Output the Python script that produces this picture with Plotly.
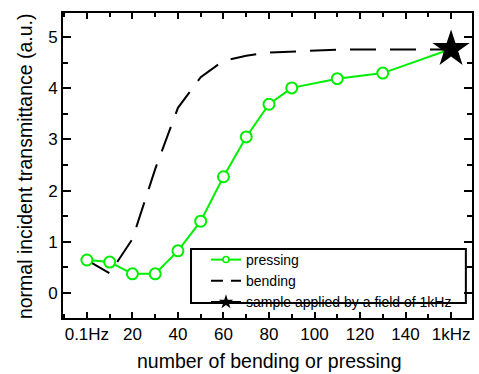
import plotly.graph_objects as go

# ---- data ----
press_x = [0, 10, 20, 30, 40, 50, 60, 70, 80, 90, 110, 130, 160]
press_y = [0.64, 0.60, 0.37, 0.37, 0.82, 1.40, 2.27, 3.05, 3.69, 4.01, 4.19, 4.30, 4.77]

bend_x = [0, 10, 20, 30, 40, 50, 60, 70, 80, 90, 100, 110, 160]
bend_y = [0.64, 0.38, 1.05, 2.42, 3.62, 4.22, 4.54, 4.64, 4.70, 4.72, 4.75, 4.76, 4.76]

star_x = [160]
star_y = [4.77]

x_tickvals = [0, 20, 40, 60, 80, 100, 120, 140, 160]
x_ticktext = ["0.1Hz", "20", "40", "60", "80", "100", "120", "140", "1kHz"]
y_tickvals = [0, 1, 2, 3, 4, 5]

x_title = "number of bending or pressing"
y_title = "normal incident transmittance (a.u.)"

GREEN = "#00ee00"
FONT = "Arial, Liberation Sans, sans-serif"

fig = go.Figure()

# bending (dashed)
fig.add_trace(go.Scatter(x=bend_x, y=bend_y, mode="lines",
                         line=dict(color="black", width=2, dash="26px,14px"),
                         showlegend=False))
# pressing
fig.add_trace(go.Scatter(x=press_x, y=press_y, mode="lines+markers",
                         line=dict(color=GREEN, width=2),
                         marker=dict(symbol="circle", size=11, color="white",
                                     line=dict(color=GREEN, width=2)),
                         showlegend=False))
# star
fig.add_trace(go.Scatter(x=star_x, y=star_y, mode="markers",
                         marker=dict(symbol="star", size=28, color="black"),
                         showlegend=False))

# legend-only entries (small symbols)
fig.add_trace(go.Scatter(x=[None], y=[None], mode="lines+markers", name="pressing",
                         line=dict(color=GREEN, width=2),
                         marker=dict(symbol="circle", size=6, color="white",
                                     line=dict(color=GREEN, width=1.5))))
fig.add_trace(go.Scatter(x=[None], y=[None], mode="lines", name="bending",
                         line=dict(color="black", width=2, dash="12px,8px")))
fig.add_trace(go.Scatter(x=[None], y=[None], mode="lines+markers",
                         name="sample applied by a field of 1kHz",
                         line=dict(color="black", width=2),
                         marker=dict(symbol="star", size=11, color="black")))

axis_common = dict(showline=True, linecolor="black", linewidth=2, mirror="ticks",
                   ticks="inside", tickcolor="black", tickwidth=1.5,
                   showgrid=False, zeroline=False,
                   tickfont=dict(family=FONT, size=17, color="black"))

fig.update_xaxes(range=[-10.5, 169.2], tickmode="array", tickvals=x_tickvals,
                 ticktext=x_ticktext, ticklen=6,
                 minor=dict(ticks="inside", ticklen=4, dtick=10, tick0=0,
                            tickcolor="black", tickwidth=1.5),
                 **axis_common)
fig.update_yaxes(range=[-0.495, 5.476], tickmode="array", tickvals=y_tickvals,
                 ticklen=8,
                 minor=dict(ticks="inside", ticklen=5, dtick=0.5, tick0=0,
                            tickcolor="black", tickwidth=1.5),
                 **axis_common)

fig.update_layout(
    width=479, height=374,
    margin=dict(l=63, r=7, t=13, b=56, autoexpand=False),
    paper_bgcolor="white", plot_bgcolor="white",
    font=dict(family=FONT, color="black"),
    legend=dict(x=0.3496, y=0.2426, xanchor="left", yanchor="top",
                bgcolor="rgba(0,0,0,0)", borderwidth=0,
                font=dict(family=FONT, size=14, color="black"),
                itemsizing="trace"),
    shapes=[dict(type="rect", xref="paper", yref="paper",
                 x0=0.313, x1=0.985, y0=0.049, y1=0.226,
                 line=dict(color="black", width=2), fillcolor="rgba(0,0,0,0)",
                 layer="above")],
    annotations=[
        dict(text=x_title, xref="paper", yref="paper", x=0.506, y=-0.141,
             xanchor="center", yanchor="middle", showarrow=False,
             font=dict(family=FONT, size=19.5, color="black")),
        dict(text=y_title, xref="paper", yref="paper", x=-0.0929, y=0.498,
             xanchor="center", yanchor="middle", showarrow=False, textangle=-90,
             font=dict(family=FONT, size=19.5, color="black")),
    ],
)

fig.write_html("out.html")
